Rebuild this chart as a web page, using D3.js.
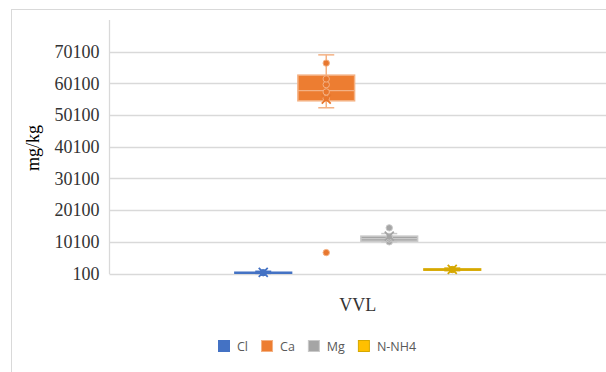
<!DOCTYPE html>
<html>
<head>
<meta charset="utf-8">
<script src="https://cdn.jsdelivr.net/npm/d3@7"></script>
<style>
  html, body { margin: 0; padding: 0; background: #fff; }
  svg { display: block; }
</style>
</head>
<body>
<div id="chart"></div>
<script>
// box & whisker: one category, four series
const categories = ['VVL'];
const seriesNames = ['Cl', 'Ca', 'Mg', 'N-NH4'];
const whiskerLow = [150, 52400, 10100, 1000];
const q1 = [250, 54600, 10300, 1150];
const median = [350, 57800, 11100, 1350];
const q3 = [500, 62700, 11900, 1550];
const whiskerHigh = [800, 69100, 12700, 1800];
const means = [420, 55100, 11900, 1380];
const points = [
  [350],
  [6700, 55300, 57400, 59700, 61500, 66500],
  [10100, 11000, 11600, 14500],
  [1350],
];
const yTicks = [100, 10100, 20100, 30100, 40100, 50100, 60100, 70100];
const yMax = 80100;

const fills = { 'Cl': '#4472C4', 'Ca': '#ED7D31', 'Mg': '#A5A5A5', 'N-NH4': '#FFC000' };
const edges = { 'Cl': '#4472C4', 'Ca': '#F4B183', 'Mg': '#C9C9C9', 'N-NH4': '#D6A800' };
const marks = { 'Cl': '#4472C4', 'Ca': '#E8772E', 'Mg': '#A5A5A5', 'N-NH4': '#D6A800' };

const W = 606, H = 372;
const plotL = 109.5, plotR = 606, plotT = 20, plotB = 273.5;

const svg = d3.select('#chart').append('svg').attr('width', W).attr('height', H);

// chart frame (cut off at right/bottom like the source)
svg.append('rect').attr('x', 11.5).attr('y', 9.5).attr('width', 700).attr('height', 500)
  .attr('fill', 'none').attr('stroke', '#d9d9d9');

const y = d3.scaleLinear().domain([100, yMax]).range([plotB, plotT]);
const x0 = d3.scaleBand().domain(categories).range([plotL, plotR]).paddingInner(0).paddingOuter(0.485);
const x1 = d3.scaleBand().domain(seriesNames).range([0, x0.bandwidth()]).paddingInner(0.1).paddingOuter(0.05);

// gridlines
svg.append('g').selectAll('line').data(yTicks).enter().append('line')
  .attr('x1', plotL).attr('x2', plotR)
  .attr('y1', (d) => Math.round(y(d)) + 0.5).attr('y2', (d) => Math.round(y(d)) + 0.5)
  .attr('stroke', '#d9d9d9').attr('stroke-width', 1.3);

// y axis line
svg.append('line').attr('x1', plotL).attr('x2', plotL).attr('y1', plotT).attr('y2', plotB + 0.5)
  .attr('stroke', '#d9d9d9').attr('stroke-width', 1.3);

// y tick labels
const yAxis = d3.axisLeft(y).tickValues(yTicks).tickSize(0).tickPadding(10).tickFormat(d3.format('d'));
const ya = svg.append('g').attr('transform', `translate(${plotL},0)`).call(yAxis);
ya.select('.domain').remove();
ya.selectAll('text').attr('font-family', '"Liberation Serif", "Times New Roman", serif')
  .attr('font-size', 18).attr('fill', '#333');

// axis title
svg.append('text').attr('transform', 'translate(33,148) rotate(-90)')
  .attr('text-anchor', 'middle').attr('dominant-baseline', 'central')
  .attr('font-family', '"Liberation Serif", "Times New Roman", serif')
  .attr('font-size', 18).attr('fill', '#000').text('mg/kg');

// category label
svg.append('text').attr('x', x0('VVL') + x0.bandwidth() / 2).attr('y', 311)
  .attr('text-anchor', 'middle')
  .attr('font-family', '"Liberation Serif", "Times New Roman", serif')
  .attr('font-size', 18).attr('fill', '#333').text('VVL');

// boxes
seriesNames.forEach((s, i) => {
  const g = svg.append('g').attr('transform', `translate(${x0('VVL') + x1(s)},0)`);
  const bw = x1.bandwidth(), cx = bw / 2, cap = 8;
  // whiskers
  g.append('line').attr('x1', cx).attr('x2', cx).attr('y1', y(whiskerHigh[i])).attr('y2', y(q3[i]))
    .attr('stroke', edges[s]).attr('stroke-width', 1.5);
  g.append('line').attr('x1', cx).attr('x2', cx).attr('y1', y(q1[i])).attr('y2', y(whiskerLow[i]))
    .attr('stroke', edges[s]).attr('stroke-width', 1.5);
  [whiskerHigh[i], whiskerLow[i]].forEach((v) => {
    g.append('line').attr('x1', cx - cap).attr('x2', cx + cap).attr('y1', y(v)).attr('y2', y(v))
      .attr('stroke', edges[s]).attr('stroke-width', 1.5);
  });
  // box
  g.append('rect').attr('x', 0).attr('width', bw)
    .attr('y', y(q3[i])).attr('height', Math.max(1, y(q1[i]) - y(q3[i])))
    .attr('fill', fills[s]).attr('stroke', edges[s]).attr('stroke-width', 1.5);
  g.append('line').attr('x1', 0).attr('x2', bw).attr('y1', y(median[i])).attr('y2', y(median[i]))
    .attr('stroke', edges[s]).attr('stroke-width', 1.2);
  // points
  g.selectAll('circle').data(points[i]).enter().append('circle')
    .attr('cx', cx).attr('cy', (d) => y(d)).attr('r', 3.2)
    .attr('fill', marks[s]).attr('stroke', edges[s]).attr('stroke-width', 1);
  // mean marker
  const my = y(means[i]), m = 4.5;
  g.append('path').attr('d', `M${cx - m},${my - m}L${cx + m},${my + m}M${cx - m},${my + m}L${cx + m},${my - m}`)
    .attr('stroke', marks[s]).attr('stroke-width', 1.8).attr('fill', 'none');
});

// legend
const legend = svg.append('g');
let lx = 0;
seriesNames.forEach((s) => {
  const it = legend.append('g').attr('transform', `translate(${lx},0)`);
  it.append('rect').attr('x', 0.5).attr('y', 0.5).attr('width', 11).attr('height', 11)
    .attr('fill', fills[s]).attr('stroke', edges[s]);
  const t = it.append('text').attr('x', 19).attr('y', 6).attr('dominant-baseline', 'central')
    .attr('font-family', '"Open Sans", sans-serif').attr('font-size', 12.5).attr('fill', '#595959').text(s);
  lx += 19 + t.node().getComputedTextLength() + 13;
});
const legendW = lx - 13;
legend.attr('transform', `translate(${Math.round(317 - legendW / 2)},340)`);
</script>
</body>
</html>
